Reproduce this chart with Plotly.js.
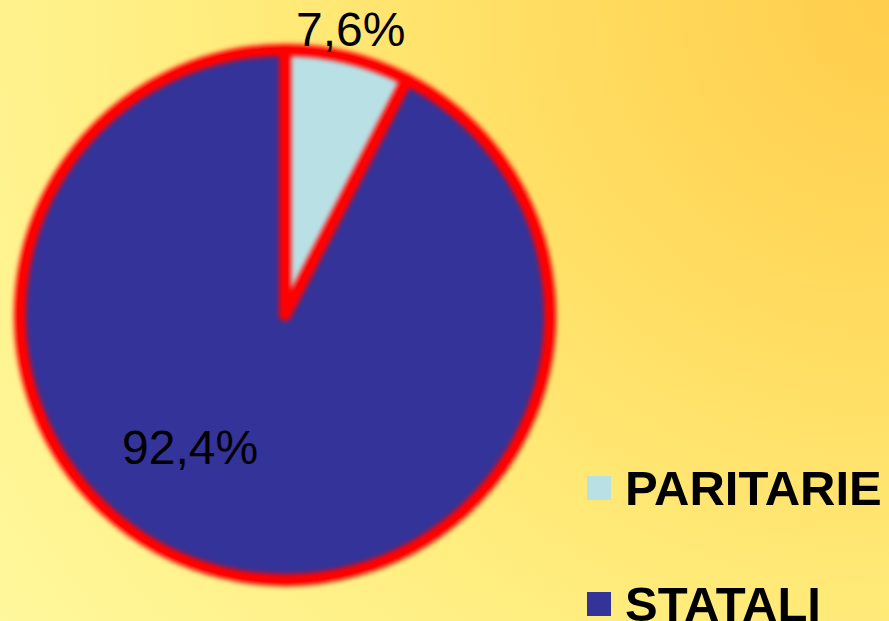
<!DOCTYPE html>
<html>
<head>
<meta charset="utf-8">
<script src="https://cdn.plot.ly/plotly-3.0.1.min.js"></script>
<style>
  html, body { margin: 0; padding: 0; }
  body {
    width: 889px; height: 621px; overflow: hidden;
    background: radial-gradient(circle farthest-corner at 100% 0%, #ffcd4c 0%, #ffdc60 30%, #ffec7c 60%, #fff89c 100%);
  }
  #chart { width: 889px; height: 621px; }
</style>
</head>
<body>
<div id="chart"></div>
<script>
const categories = ['PARITARIE', 'STATALI'];
const values = [7.6, 92.4];
const sliceColors = ['#b9e1e5', '#333399'];

const total = values.reduce((a, b) => a + b, 0);
const valueLabels = values.map(v => (v / total * 100).toFixed(1).replace('.', ',') + '%');

const domain = { x: [0.0225, 0.6187], y: [0.066, 0.9195] };

const baseTrace = {
  type: 'pie',
  labels: categories,
  values: values,
  sort: false,
  direction: 'clockwise',
  rotation: 0,
  domain: domain,
  marker: { colors: sliceColors, line: { color: '#ff0000', width: 5 } },
  textinfo: 'none',
  hoverinfo: 'label+percent',
  showlegend: false
};

const glowTrace = {
  type: 'pie',
  labels: categories,
  values: values,
  sort: false,
  direction: 'clockwise',
  rotation: 0,
  domain: domain,
  marker: { colors: ['rgba(0,0,0,0)', 'rgba(0,0,0,0)'], line: { color: '#ff0000', width: 12 } },
  textinfo: 'none',
  hoverinfo: 'skip',
  showlegend: false
};

const valueFont = { family: 'Liberation Sans, Arial, sans-serif', size: 48, color: '#000000' };
const legendFont = { family: 'Liberation Sans, Arial, sans-serif', size: 49, color: '#000000', weight: 'bold' };

// label anchor positions (pixels from top-left) for the value labels
const valueLabelPos = [[350, 30], [190, 447]];
const legendRowY = [488, 604];

const annotations = [];
const shapes = [];
valueLabels.forEach((t, i) => {
  annotations.push({
    xref: 'paper', yref: 'paper',
    x: valueLabelPos[i][0] / 889, y: 1 - valueLabelPos[i][1] / 621,
    xanchor: 'center', yanchor: 'middle',
    text: t, showarrow: false, font: valueFont
  });
});
categories.forEach((c, i) => {
  const yc = legendRowY[i];
  shapes.push({
    type: 'rect', xref: 'paper', yref: 'paper',
    x0: 587 / 889, x1: 611 / 889,
    y0: 1 - (yc + 12) / 621, y1: 1 - (yc - 12) / 621,
    fillcolor: sliceColors[i], line: { width: 0 }
  });
  annotations.push({
    xref: 'paper', yref: 'paper',
    x: 623 / 889, y: 1 - yc / 621,
    xanchor: 'left', yanchor: 'middle',
    text: '<b>' + c + '</b>', showarrow: false,
    font: legendFont
  });
});

const layout = {
  width: 889, height: 621,
  margin: { l: 0, r: 0, t: 0, b: 0 },
  paper_bgcolor: 'rgba(0,0,0,0)',
  plot_bgcolor: 'rgba(0,0,0,0)',
  separators: ',.',
  showlegend: false,
  shapes: shapes,
  annotations: annotations
};

Plotly.newPlot('chart', [baseTrace, glowTrace], layout, { displayModeBar: false, staticPlot: true }).then(gd => {
  const ns = 'http://www.w3.org/2000/svg';
  const svg = gd.querySelector('.main-svg');
  let defs = svg.querySelector('defs');
  if (!defs) { defs = document.createElementNS(ns, 'defs'); svg.insertBefore(defs, svg.firstChild); }
  const f = document.createElementNS(ns, 'filter');
  f.setAttribute('id', 'redglow');
  f.setAttribute('x', '-10%'); f.setAttribute('y', '-10%');
  f.setAttribute('width', '120%'); f.setAttribute('height', '120%');
  const b = document.createElementNS(ns, 'feGaussianBlur');
  b.setAttribute('stdDeviation', '2.4');
  f.appendChild(b);
  defs.appendChild(f);
  const traces = gd.querySelectorAll('.pielayer .trace');
  if (traces[1]) traces[1].setAttribute('filter', 'url(#redglow)');
});
</script>
</body>
</html>
